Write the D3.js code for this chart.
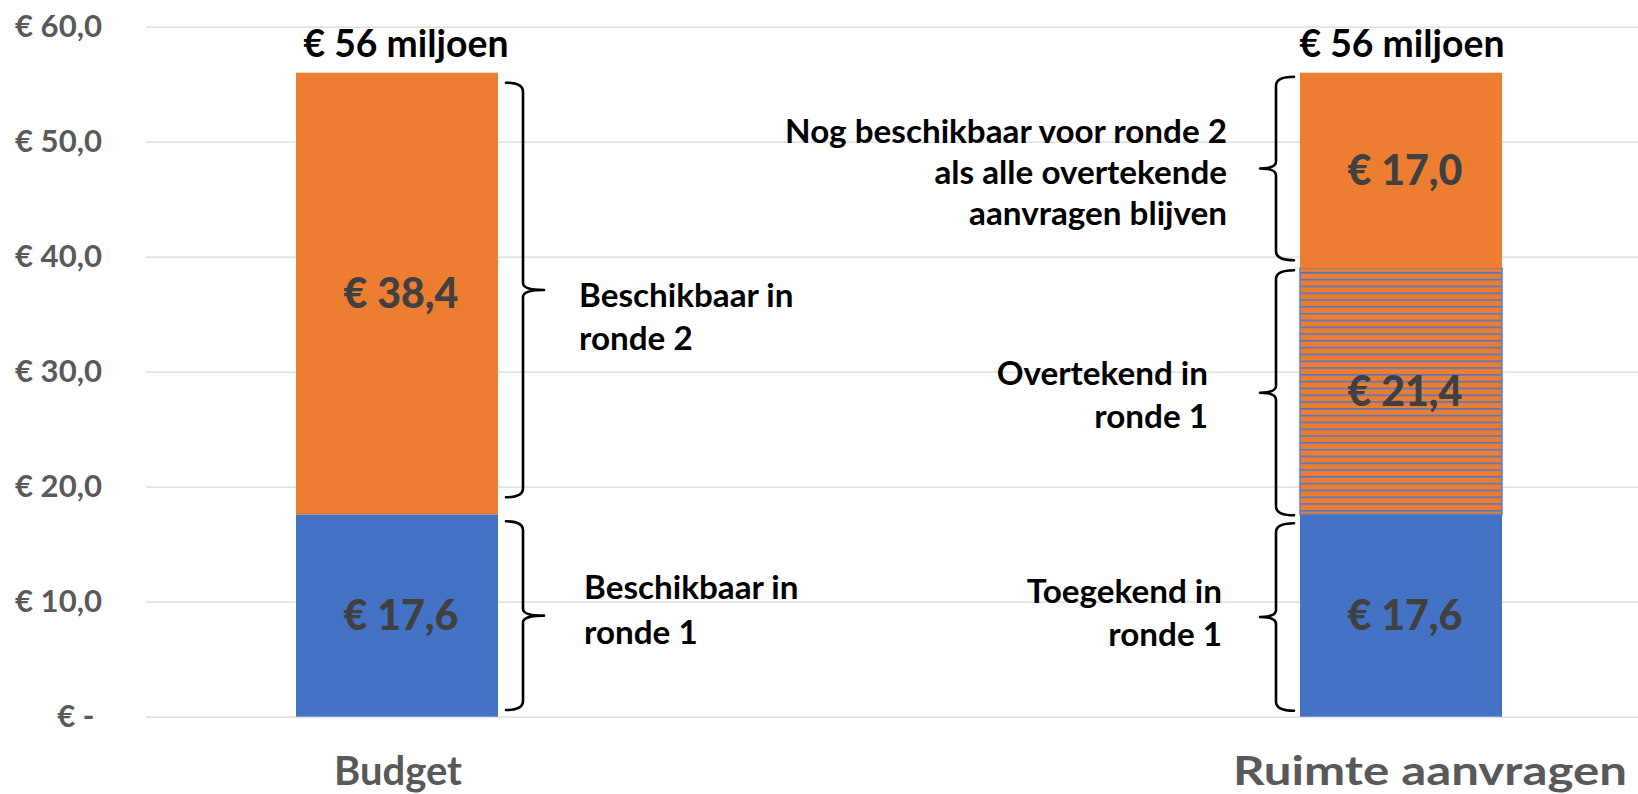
<!DOCTYPE html>
<html><head><meta charset="utf-8">
<script src="https://cdn.jsdelivr.net/npm/d3@7"></script>
<style>html,body{margin:0;padding:0;background:#fff;} svg{display:block;}</style>
</head><body><svg id="chart" width="1638" height="794"></svg>
<script>
// ---- data ----
const categories = ["Budget", "Ruimte aanvragen"];
const budgetValues = [17.6, 38.4];
const aanvragenValues = [17.6, 21.4, 17.0];
const budgetKinds = ["ronde1", "ronde2"];
const aanvragenKinds = ["ronde1", "overtekend", "ronde2"];
const yTickValues = [0, 10, 20, 30, 40, 50, 60];
const budgetNotes = [["Beschikbaar in", "ronde 1"], ["Beschikbaar in", "ronde 2"]];
const aanvragenNotes = [["Toegekend in", "ronde 1"], ["Overtekend in", "ronde 1"],
  ["Nog beschikbaar voor ronde 2", "als alle overtekende", "aanvragen blijven"]];
const totalSuffix = "miljoen";

// ---- setup ----
const FONT = "Lato, 'Open Sans', sans-serif";
const svg = d3.select("#chart");
const y = d3.scaleLinear().domain([0, 60]).range([716.7, 26.7]);
const x = d3.scalePoint().domain(categories).range([397, 1401]);
const barW = 202;
const fmt = v => v === 0 ? "€ -\u00A0" : "€ " + d3.format(".1f")(v).replace(".", ",");

function fit(text, target, weight = "bold") {
  const t = svg.append("text").attr("font-family", FONT).attr("font-weight", weight)
    .attr("font-size", 100).text(text);
  const w = t.node().getComputedTextLength(); t.remove();
  return 100 * target / w;
}

const kindFill = { ronde1: "#4472C4", ronde2: "#ED7D31", overtekend: "url(#hatch)" };

// hatch pattern
const defs = svg.append("defs");
const pat = defs.append("pattern").attr("id", "hatch").attr("patternUnits", "userSpaceOnUse")
  .attr("width", 20).attr("height", 6.8);
pat.append("rect").attr("width", 20).attr("height", 6.8).attr("fill", "#ED7D31");
pat.append("rect").attr("y", 0).attr("width", 20).attr("height", 1.6).attr("fill", "#4F78C8");

// axis + gridlines
const axisG = svg.append("g").attr("transform", "translate(146,0)")
  .call(d3.axisLeft(y).tickValues(yTickValues).tickSize(-(1638 - 146)).tickFormat(fmt));
axisG.select(".domain").remove();
axisG.selectAll(".tick line").attr("stroke", "#d9d9d9").attr("stroke-width", 1.2);
const yFs = fit("€ 60,0", 87);
axisG.selectAll(".tick text").attr("x", -44).attr("fill", "#595959")
  .attr("font-family", FONT).attr("font-weight", "bold").attr("font-size", yFs);

// segments
function stack(values, kinds, notes) {
  let acc = 0;
  return values.map((v, i) => { const s = acc; acc += v; return { start: s, end: acc, value: v, kind: kinds[i], note: notes[i] }; });
}
const series = [
  { cat: categories[0], segs: stack(budgetValues, budgetKinds, budgetNotes), total: d3.sum(budgetValues) },
  { cat: categories[1], segs: stack(aanvragenValues, aanvragenKinds, aanvragenNotes), total: d3.sum(aanvragenValues) }
];

const valFs = fit("€ 38,4", 115, 900);
series.forEach(s => {
  const cx = x(s.cat);
  const g = svg.append("g");
  g.selectAll("rect").data(s.segs).join("rect")
    .attr("x", cx - barW / 2).attr("width", barW)
    .attr("y", d => y(d.end)).attr("height", d => y(d.start) - y(d.end))
    .attr("fill", d => kindFill[d.kind])
    .attr("stroke", d => d.kind === "overtekend" ? "#5A7FC9" : "none").attr("stroke-width", 1.5);
  g.selectAll("text").data(s.segs).join("text")
    .attr("x", cx + 4).attr("y", d => y((d.start + d.end) / 2))
    .attr("dy", "0.36em").attr("text-anchor", "middle")
    .attr("font-family", FONT).attr("font-weight", 900).attr("font-size", valFs)
    .attr("fill", "#404040").text(d => fmt(d.value));
});

// totals
const totFs = fit("€ 56 miljoen", 205);
svg.selectAll(".total").data(series).join("text").attr("class", "total")
  .attr("x", (d, i) => x(d.cat) + (i === 0 ? 9 : 1)).attr("y", 57)
  .attr("text-anchor", "middle").attr("font-family", FONT).attr("font-weight", "bold")
  .attr("font-size", totFs).attr("fill", "#000")
  .text(d => "€ " + d3.format(".0f")(d.total) + " " + totalSuffix);

// braces
function brace(xa, xv, xt, top, bot, mid) {
  const r = 9, m = 7;
  return `M${xa},${top} Q${xv},${top} ${xv},${top + r} L${xv},${mid - m} Q${xv},${mid} ${xt},${mid}` +
         ` M${xt},${mid} Q${xv},${mid} ${xv},${mid + m} L${xv},${bot - r} Q${xv},${bot} ${xa},${bot}`;
}
const braceLayout = [
  [{ t: 7, b: -6.7 }, { t: 10, b: -17 }],
  [{ t: 9, b: -6 }, { t: 2, b: 1 }, { t: 4, b: -8 }]
];
const noteLayout = [
  [{ dx: 86, dys: [-17, 28], anchor: "start" }, { dx: 81, dys: [17, 60], anchor: "start" }],
  [{ dx: -78, dys: [-14, 29], anchor: "end" }, { dx: -92, dys: [-8, 35], anchor: "end" },
   { dx: -73, dys: [-25, 16, 57], anchor: "end" }]
];
const noteFs = fit("Nog beschikbaar voor ronde 2", 442);

series.forEach((s, si) => {
  const cx = x(s.cat);
  s.segs.forEach((d, i) => {
    const L = braceLayout[si][i];
    const top = y(d.end) + L.t, bot = y(d.start) + L.b;
    const mid = (top + bot) / 2;
    let path;
    if (si === 0) {
      const e = cx + barW / 2;
      path = brace(e + 8, e + 25, e + 46, top, bot, mid);
    } else {
      const e = cx - barW / 2;
      path = brace(e - 6, e - 24, e - 40, top, bot, mid);
    }
    svg.append("path").attr("d", path).attr("fill", "none").attr("stroke", "#000")
      .attr("stroke-width", 2.6).attr("stroke-linecap", "round");
    const N = noteLayout[si][i];
    const tx = si === 0 ? cx + barW / 2 + N.dx : cx - barW / 2 + N.dx;
    const t = svg.append("text").attr("font-family", FONT).attr("font-weight", "bold")
      .attr("font-size", noteFs).attr("fill", "#000").attr("text-anchor", N.anchor);
    d.note.forEach((line, k) => {
      t.append("tspan").attr("x", tx).attr("y", mid + N.dys[k]).text(line);
    });
  });
});

// category labels
const catFs = fit("Budget", 128);
svg.selectAll(".cat").data(categories).join("text").attr("class", "cat")
  .attr("x", (d, i) => x(d) + (i === 0 ? 1 : 29)).attr("y", 785)
  .attr("text-anchor", "middle").attr("font-family", FONT).attr("font-weight", "bold")
  .attr("font-size", catFs).attr("fill", "#595959")
  .attr("textLength", (d, i) => i === 1 ? 394 : null)
  .attr("lengthAdjust", "spacingAndGlyphs")
  .text(d => d);
</script>
</body></html>
